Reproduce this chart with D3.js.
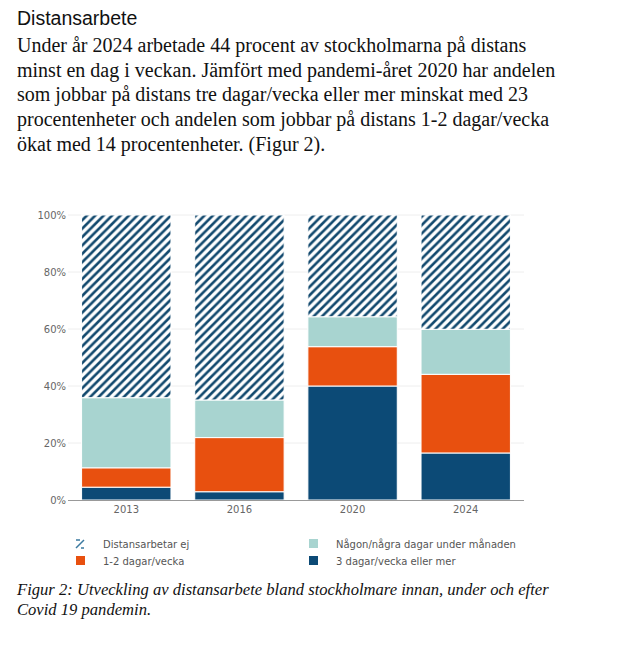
<!DOCTYPE html>
<html>
<head>
<meta charset="utf-8">
<script src="https://cdn.jsdelivr.net/npm/d3@7"></script>
<style>
  body { margin: 0; background: #fff; }
  svg { display: block; }
</style>
</head>
<body>
<svg id="page" width="627" height="662"></svg>
<script>
const years = ['2013', '2016', '2020', '2024']
const threePlus = [4.5, 2.9, 40, 16.5]
const oneTwo = [6.8, 19, 13.8, 27.6]
const someMonth = [24.6, 13.2, 10.5, 15.8]
const notRemote = years.map((y, i) => 100 - threePlus[i] - oneTwo[i] - someMonth[i])
const yTicks = [0, 20, 40, 60, 80, 100]

const seriesKeys = ['threePlus', 'oneTwo', 'someMonth', 'notRemote']
const seriesColors = {
  threePlus: '#0c4a76',
  oneTwo: '#e8500f',
  someMonth: '#a8d4d0',
  notRemote: 'url(#hatch)',
}

const legendItems = [
  { key: 'notRemote', label: 'Distansarbetar ej' },
  { key: 'someMonth', label: 'Någon/några dagar under månaden' },
  { key: 'oneTwo', label: '1-2 dagar/vecka' },
  { key: 'threePlus', label: '3 dagar/vecka eller mer' },
]

const paragraph = [
  'Under år 2024 arbetade 44 procent av stockholmarna på distans',
  'minst en dag i veckan. Jämfört med pandemi-året 2020 har andelen',
  'som jobbar på distans tre dagar/vecka eller mer minskat med 23',
  'procentenheter och andelen som jobbar på distans 1-2 dagar/vecka',
  'ökat med 14 procentenheter. (Figur 2).',
]
const caption = [
  'Figur 2: Utveckling av distansarbete bland stockholmare innan, under och efter',
  'Covid 19 pandemin.',
]

const table = years.map((year, i) => ({
  year,
  threePlus: threePlus[i],
  oneTwo: oneTwo[i],
  someMonth: someMonth[i],
  notRemote: notRemote[i],
}))

const svg = d3.select('#page')

// hatch pattern for "Distansarbetar ej" - stripes going up to the right
const p = 8.4
const defs = svg.append('defs')
const pat = defs.append('pattern')
  .attr('id', 'hatch')
  .attr('patternUnits', 'userSpaceOnUse')
  .attr('width', p)
  .attr('height', p)
pat.append('rect').attr('width', p).attr('height', p).attr('fill', '#fff')
pat.append('path')
  .attr('d', `M-2,2L2,-2 M0,${p}L${p},0 M${p - 2},${p + 2}L${p + 2},${p - 2}`)
  .attr('stroke', '#12496e')
  .attr('stroke-width', 2.6)

// text above the chart
svg.append('text')
  .attr('x', 17).attr('y', 25)
  .attr('font-family', 'Liberation Sans, Arial, sans-serif')
  .attr('font-size', 19.5)
  .attr('fill', '#111')
  .text('Distansarbete')

svg.append('g')
  .selectAll('text')
  .data(paragraph)
  .join('text')
  .attr('x', 17)
  .attr('y', (d, i) => 52 + i * 24.7)
  .attr('font-family', 'Liberation Serif, Times New Roman, serif')
  .attr('font-size', 20)
  .attr('fill', '#111')
  .text(d => d)

// chart
const x = d3.scaleBand()
  .domain(years)
  .range([68, 524])
  .paddingInner(0.21)
  .paddingOuter(0.12)

const y = d3.scaleLinear()
  .domain([0, 100])
  .range([500, 215])

const chart = svg.append('g')

chart.append('g')
  .selectAll('line')
  .data(yTicks.slice(1))
  .join('line')
  .attr('x1', 68).attr('x2', 524)
  .attr('y1', d => y(d)).attr('y2', d => y(d))
  .attr('stroke', '#eeeeee')
  .attr('stroke-width', 1)

const yAxis = chart.append('g')
  .attr('transform', 'translate(68,0)')
  .call(d3.axisLeft(y).tickValues(yTicks).tickFormat(d => d + '%').tickSize(0).tickPadding(2))
yAxis.select('.domain').remove()
yAxis.selectAll('text')
  .attr('font-family', 'Verdana, DejaVu Sans, sans-serif')
  .attr('font-size', 10)
  .attr('fill', '#666')

const stack = d3.stack().keys(seriesKeys)(table)

chart.append('g')
  .selectAll('g')
  .data(stack)
  .join('g')
  .attr('fill', d => seriesColors[d.key])
  .selectAll('rect')
  .data(d => d)
  .join('rect')
  .attr('x', d => x(d.data.year))
  .attr('width', x.bandwidth())
  .attr('y', d => y(d[1]))
  .attr('height', d => y(d[0]) - y(d[1]))
  .attr('stroke', '#fff')
  .attr('stroke-width', 1)

const xAxis = chart.append('g')
  .attr('transform', 'translate(0,500)')
  .call(d3.axisBottom(x).tickSize(0).tickPadding(6).tickSizeOuter(0))
xAxis.select('.domain').attr('stroke', '#999').attr('d', 'M68,0.5H524')
xAxis.selectAll('text')
  .attr('font-family', 'Verdana, DejaVu Sans, sans-serif')
  .attr('font-size', 10)
  .attr('fill', '#666')

// legend
const legend = svg.append('g')
  .selectAll('g')
  .data(legendItems)
  .join('g')
  .attr('transform', (d, i) => `translate(${i % 2 ? 313 : 80},${i < 2 ? 544 : 561})`)

legend.each(function (d) {
  const g = d3.select(this)
  if (d.key === 'notRemote') {
    g.append('path')
      .attr('d', 'M-4,-4H0 M-4,4L4,-4 M1,4H4')
      .attr('stroke', '#3b7aa0')
      .attr('stroke-width', 1.5)
      .attr('fill', 'none')
  } else {
    g.append('rect')
      .attr('x', -4).attr('y', -5)
      .attr('width', 9).attr('height', 9)
      .attr('fill', seriesColors[d.key])
  }
})

legend.append('text')
  .attr('x', 23)
  .attr('y', 4)
  .attr('font-family', 'Verdana, DejaVu Sans, sans-serif')
  .attr('font-size', 10)
  .attr('fill', '#555')
  .text(d => d.label)

// caption
svg.append('g')
  .selectAll('text')
  .data(caption)
  .join('text')
  .attr('x', 17)
  .attr('y', (d, i) => 595 + i * 20)
  .attr('font-family', 'Liberation Serif, Times New Roman, serif')
  .attr('font-style', 'italic')
  .attr('font-size', 16.6)
  .attr('fill', '#111')
  .text(d => d)
</script>
</body>
</html>
